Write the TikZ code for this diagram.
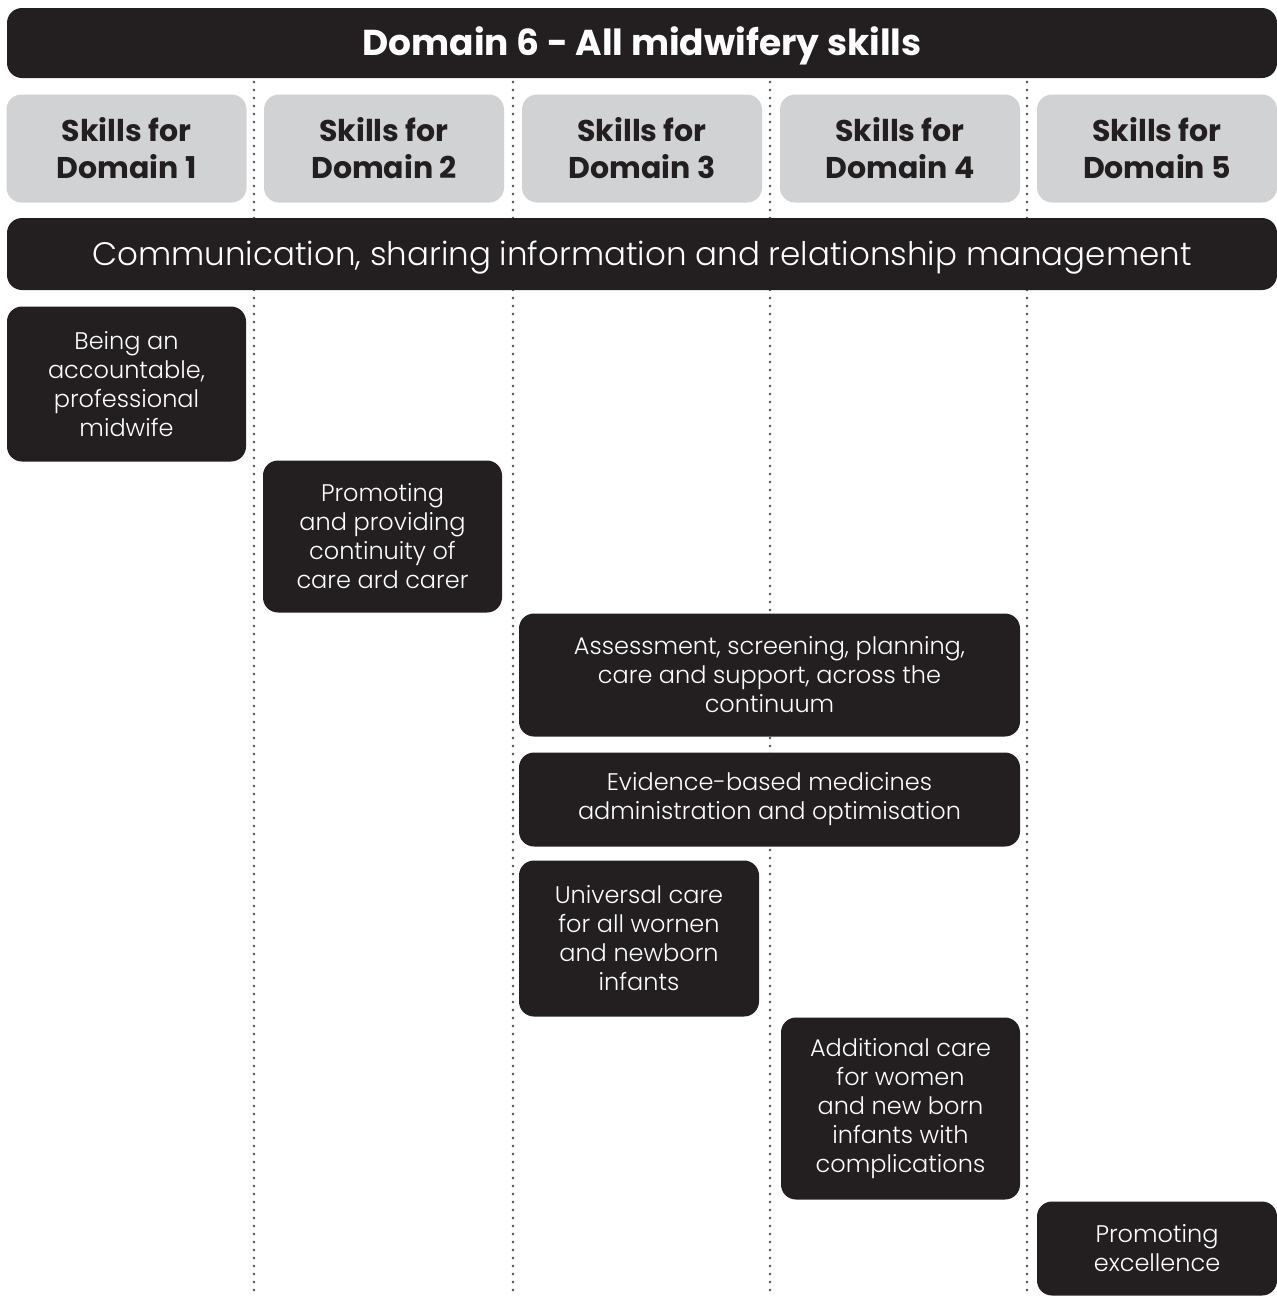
\documentclass[tikz,border=0pt]{standalone}
\usepackage{fontspec}
\setmainfont{Poppins}
\newfontfamily\lightfont{Poppins Light}
\definecolor{ink}{HTML}{231F20}
\definecolor{panel}{HTML}{D1D2D4}
\definecolor{dots}{HTML}{4D4D4F}
\tikzset{
  darkbox/.style={fill=ink, rounded corners=15pt, inner sep=0pt, text=white, align=center,
     font=\lightfont\fontsize{24}{29}\selectfont},
  greybox/.style={fill=panel, rounded corners=15pt, inner sep=0pt, text=ink, align=center,
     minimum width=240pt, minimum height=108pt, font=\bfseries\fontsize{30}{37}\selectfont},
  dotline/.style={draw=dots, line width=2.6pt, line cap=round, dash pattern=on 0pt off 8pt}
}
\begin{document}
\begin{tikzpicture}[x=1pt,y=-1pt]
\useasboundingbox (0,0) rectangle (1277,1296);
% dotted column separators
\foreach \xx in {254,513,770,1027}{
  \draw[dotline] (\xx,82) -- (\xx,1294);
}
% title
\node[darkbox, minimum width=1270pt, minimum height=70pt, text height=25pt, text depth=0pt,
      font=\bfseries\fontsize{36}{40}\selectfont] (title) at (642,43) {Domain 6 - All midwifery skills};
% skills boxes
\node[greybox] (s1) at (126.5,148.5) {Skills for\\Domain 1};
\node[greybox] (s2) at (384,148.5) {Skills for\\Domain 2};
\node[greybox] (s3) at (642,148.5) {Skills for\\Domain 3};
\node[greybox] (s4) at (900,148.5) {Skills for\\Domain 4};
\node[greybox] (s5) at (1157,148.5) {Skills for\\Domain 5};
% communication bar
\node[darkbox, minimum width=1270pt, minimum height=72pt, text height=23pt, text depth=0pt,
      font=\lightfont\fontsize{32.5}{36}\selectfont] (comm) at (642,254) {Communication, sharing information and relationship management};
% competency boxes
\node[darkbox, minimum width=239pt, minimum height=155pt] (b1) at (126.5,384) {Being an\\accountable,\\professional\\midwife};
\node[darkbox, minimum width=239pt, minimum height=152pt] (b2) at (382.5,536.5) {Promoting\\and providing\\continuity of\\care ard carer};
\node[darkbox, minimum width=501pt, minimum height=123pt] (b3) at (769.5,675) {Assessment, screening, planning,\\care and support, across the\\continuum};
\node[darkbox, minimum width=501pt, minimum height=94pt] (b4) at (769.5,799.5) {Evidence-based medicines\\administration and optimisation};
\node[darkbox, minimum width=240pt, minimum height=156pt] (b5) at (639,938.5) {Universal care\\for all wornen\\and newborn\\infants};
\node[darkbox, minimum width=239pt, minimum height=182pt] (b6) at (900.5,1108.5) {Additional care\\for women\\and new born\\infants with\\complications};
\node[darkbox, minimum width=240pt, minimum height=94pt] (b7) at (1157,1248.5) {Promoting\\excellence};
\end{tikzpicture}
\end{document}
